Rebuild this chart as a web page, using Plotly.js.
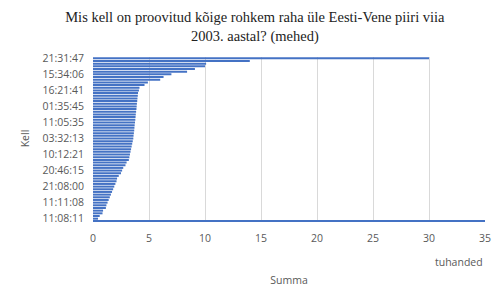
<!DOCTYPE html>
<html><head><meta charset="utf-8">
<script src="https://cdn.plot.ly/plotly-3.0.1.min.js"></script>
<style>html,body{margin:0;padding:0;background:#fff}#c{width:494px;height:289px}</style>
</head><body><div id="c"></div>
<script>
// Values from bottom category (index 0) to top category (index 60), thousands
const values = [0.45,0.6,0.85,0.9,1.15,1.2,1.3,1.4,1.5,1.6,1.7,1.8,1.9,2.0,2.1,2.15,2.3,2.5,2.6,2.7,2.9,3.0,3.2,3.25,3.3,3.35,3.4,3.45,3.5,3.55,3.6,3.62,3.65,3.68,3.7,3.72,3.75,3.78,3.8,3.82,3.85,3.88,3.9,3.92,3.95,3.97,4.0,4.02,4.1,4.15,4.6,4.9,6.0,6.3,7.0,8.4,9.1,10.0,10.1,14.0,30.0];
const tickPositions = [0,6,12,18,24,30,36,42,48,54,60];
const tickLabels = ["11:08:11","11:11:08","21:08:00","20:46:15","10:12:21","03:32:13","11:05:35","01:35:45","16:21:41","15:34:06","21:31:47"];
const xTicks = [0,5,10,15,20,25,30,35];
const idx = values.map((v,i)=>i);
const grey = '#595959';
Plotly.newPlot('c',[{
  type:'bar', orientation:'h', x: values, y: idx,
  marker:{color:'#4472C4'}, hoverinfo:'none'
}],{
  width:494, height:289,
  margin:{l:93,r:9,t:57,b:69},
  paper_bgcolor:'#fff', plot_bgcolor:'#fff',
  bargap:0.25, showlegend:false,
  font:{family:'"Open Sans", "Liberation Sans", sans-serif', color:grey, size:10},
  title:{text:'Mis kell on proovitud kõige rohkem raha üle Eesti-Vene piiri viia<br>2003. aastal? (mehed)',
    font:{family:'"Liberation Serif", "DejaVu Serif", serif', size:14.5, color:'#222'},
    x:0.516, xanchor:'center', xref:'container', yref:'container', y:0.925, yanchor:'middle'},
  xaxis:{range:[0,35], tickvals:xTicks, ticktext:xTicks.map(String), showgrid:true, gridcolor:'#d9d9d9', gridwidth:1,
    zeroline:false, showline:true, linecolor:'#4472C4', linewidth:1.5, ticks:'', ticklabelstandoff:8,
    tickfont:{size:10.5, color:grey},
    title:{text:'Summa', font:{size:10.5, color:grey}, standoff:32}},
  yaxis:{range:[-0.5,60.5], tickvals:tickPositions, ticktext:tickLabels, showgrid:false, zeroline:false,
    showline:false, ticks:'', ticklabelstandoff:8, tickfont:{size:10.5, color:grey},
    title:{text:'Kell', font:{size:10.5, color:grey}, standoff:10}},
  annotations:[{text:'tuhanded', xref:'paper', yref:'paper', x:1, y:-0.26, xanchor:'right', yanchor:'middle', showarrow:false, font:{size:10.5,color:grey}}]
},{displayModeBar:false, staticPlot:true});
</script></body></html>
